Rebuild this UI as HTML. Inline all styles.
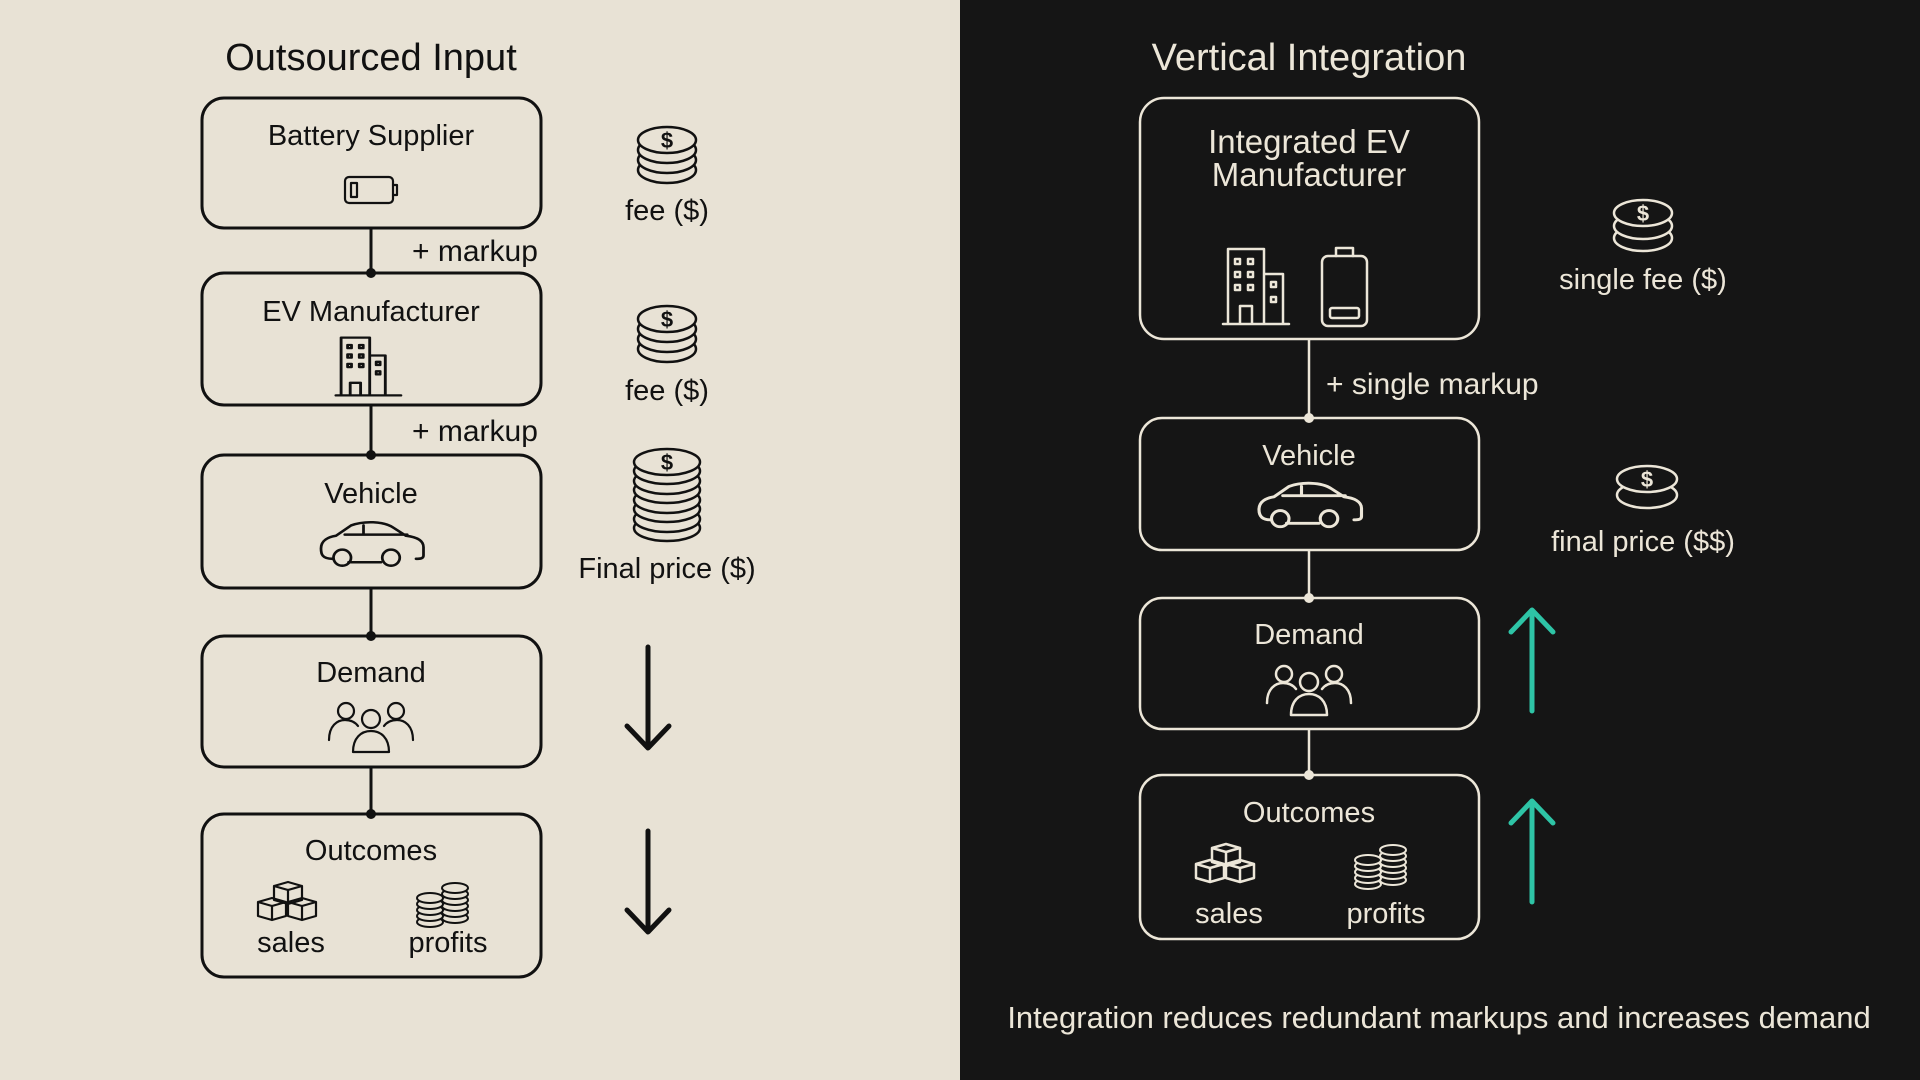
<!DOCTYPE html>
<html><head><meta charset="utf-8"><style>
html,body{margin:0;padding:0;width:1920px;height:1080px;overflow:hidden}
svg{display:block}
text{font-family:"Liberation Sans",sans-serif}
</style></head><body>
<svg width="1920" height="1080" viewBox="0 0 1920 1080" xmlns="http://www.w3.org/2000/svg">
<rect x="0" y="0" width="960" height="1080" fill="#e8e2d5"/>
<rect x="960" y="0" width="960" height="1080" fill="#151515"/>

<!-- LEFT -->
<g fill="none" stroke="#111" stroke-width="3">
<line x1="371" y1="228" x2="371" y2="273"/>
<line x1="371" y1="405" x2="371" y2="455"/>
<line x1="371" y1="588" x2="371" y2="636"/>
<line x1="371" y1="767" x2="371" y2="814"/>
<rect x="202" y="98" width="339" height="130" rx="22"/>
<rect x="202" y="273" width="339" height="132" rx="22"/>
<rect x="202" y="455" width="339" height="133" rx="22"/>
<rect x="202" y="636" width="339" height="131" rx="22"/>
<rect x="202" y="814" width="339" height="163" rx="22"/>
</g>
<g fill="#111"><circle cx="371" cy="273" r="5"/><circle cx="371" cy="455" r="5"/><circle cx="371" cy="636" r="5"/><circle cx="371" cy="814" r="5"/></g>
<g fill="#111" text-anchor="middle">
<text x="371" y="70" font-size="38">Outsourced Input</text>
<text x="371" y="145" font-size="29">Battery Supplier</text>
<text x="371" y="321" font-size="29">EV Manufacturer</text>
<text x="371" y="503" font-size="29">Vehicle</text>
<text x="371" y="682" font-size="29">Demand</text>
<text x="371" y="860" font-size="29">Outcomes</text>
<text x="291" y="952" font-size="29">sales</text>
<text x="448" y="952" font-size="29">profits</text>
<text x="667" y="220" font-size="29">fee ($)</text>
<text x="667" y="400" font-size="29">fee ($)</text>
<text x="667" y="578" font-size="29">Final price ($)</text>
</g>
<g fill="#111" font-size="30"><text x="412" y="261">+ markup</text><text x="412" y="441">+ markup</text></g>

<!-- left icons -->
<g fill="none" stroke="#111" stroke-width="2.2" stroke-linecap="round" stroke-linejoin="round">
<rect x="345" y="177" width="48" height="26" rx="4"/><rect x="351" y="183" width="6" height="14"/><path d="M393 185h4v10h-4"/>
<g transform="translate(371,366) scale(1.3,1.05) translate(-371,-366)">
<path d="M344 394h50M348 394v-55h22v55M370 356h12v38M355 394v-12h8v12"/>
<rect x="353" y="346" width="3" height="3"/><rect x="362" y="346" width="3" height="3"/><rect x="353" y="355" width="3" height="3"/><rect x="362" y="355" width="3" height="3"/><rect x="353" y="364" width="3" height="3"/><rect x="362" y="364" width="3" height="3"/><rect x="375" y="362" width="3" height="3"/><rect x="375" y="371" width="3" height="3"/>
</g>
<g transform="translate(371,545) scale(1.25,1.15) translate(-371,-545)">
<path d="M340 557c-8 0-9-4-9-9c0-7 6-10 12-11l12-9c10-4 26-4 34 2l10 7c8 1 14 4 14 10v7c0 3-3 3-6 3M353 560h26M350 536h50M365 528v8"/>
<circle cx="348" cy="556" r="7"/><circle cx="387" cy="556" r="7"/>
</g>
<circle cx="346" cy="711" r="8"/><circle cx="396" cy="711" r="8"/><circle cx="371" cy="719" r="9"/>
<path d="M329 740c0-14 8-20 16-20c6 0 10 2 13 6M413 740c0-14-8-20-16-20c-6 0-10 2-13 6M353 752c0-14 8-21 18-21s18 7 18 21z"/>
<path d="M274 886l14-4l14 4v14l-14 4l-14-4zM274 886l14 4l14-4M288 890v14"/>
<path d="M258 902l14-4l14 4v14l-14 4l-14-4zM258 902l14 4l14-4M272 906v14"/>
<path d="M288 902l14-4l14 4v14l-14 4l-14-4zM288 902l14 4l14-4M302 906v14"/>
</g>
<g fill="#e8e2d5" stroke="#111" stroke-width="2">
<ellipse cx="455" cy="918" rx="13" ry="5"/><ellipse cx="455" cy="912" rx="13" ry="5"/><ellipse cx="455" cy="906" rx="13" ry="5"/><ellipse cx="455" cy="900" rx="13" ry="5"/><ellipse cx="455" cy="894" rx="13" ry="5"/><ellipse cx="455" cy="888" rx="13" ry="5"/>
<ellipse cx="430" cy="922" rx="13" ry="5"/><ellipse cx="430" cy="916" rx="13" ry="5"/><ellipse cx="430" cy="910" rx="13" ry="5"/><ellipse cx="430" cy="904" rx="13" ry="5"/><ellipse cx="430" cy="898" rx="13" ry="5"/>
</g>
<g fill="#e8e2d5" stroke="#111" stroke-width="2.5">
<ellipse cx="667" cy="170" rx="29" ry="13"/><ellipse cx="667" cy="160" rx="29" ry="13"/><ellipse cx="667" cy="150" rx="29" ry="13"/><ellipse cx="667" cy="140" rx="29" ry="13"/>
<ellipse cx="667" cy="349" rx="29" ry="13"/><ellipse cx="667" cy="339" rx="29" ry="13"/><ellipse cx="667" cy="329" rx="29" ry="13"/><ellipse cx="667" cy="319" rx="29" ry="13"/>
<ellipse cx="667" cy="528" rx="33" ry="13"/><ellipse cx="667" cy="519" rx="33" ry="13"/><ellipse cx="667" cy="509" rx="33" ry="13"/><ellipse cx="667" cy="500" rx="33" ry="13"/><ellipse cx="667" cy="490" rx="33" ry="13"/><ellipse cx="667" cy="481" rx="33" ry="13"/><ellipse cx="667" cy="471" rx="33" ry="13"/><ellipse cx="667" cy="462" rx="33" ry="13"/>
</g>
<g fill="#111" font-size="22" font-weight="bold" text-anchor="middle"><text x="667" y="148">$</text><text x="667" y="327">$</text><text x="667" y="470">$</text></g>
<g fill="none" stroke="#111" stroke-width="5" stroke-linecap="round" stroke-linejoin="round">
<path d="M648 647v100M627 726l21 22l21-22"/>
<path d="M648 831v100M627 910l21 22l21-22"/>
</g>

<!-- RIGHT -->
<g fill="none" stroke="#ece6d8" stroke-width="2.5">
<line x1="1309" y1="339" x2="1309" y2="418"/>
<line x1="1309" y1="550" x2="1309" y2="598"/>
<line x1="1309" y1="729" x2="1309" y2="775"/>
<rect x="1140" y="98" width="339" height="241" rx="24"/>
<rect x="1140" y="418" width="339" height="132" rx="22"/>
<rect x="1140" y="598" width="339" height="131" rx="22"/>
<rect x="1140" y="775" width="339" height="164" rx="22"/>
</g>
<g fill="#ece6d8"><circle cx="1309" cy="418" r="5"/><circle cx="1309" cy="598" r="5"/><circle cx="1309" cy="775" r="5"/></g>
<g fill="#ece6d8" text-anchor="middle">
<text x="1309" y="70" font-size="38">Vertical Integration</text>
<text x="1309" y="153" font-size="33">Integrated EV</text>
<text x="1309" y="186" font-size="33">Manufacturer</text>
<text x="1309" y="465" font-size="29">Vehicle</text>
<text x="1309" y="644" font-size="29">Demand</text>
<text x="1309" y="822" font-size="29">Outcomes</text>
<text x="1229" y="923" font-size="29">sales</text>
<text x="1386" y="923" font-size="29">profits</text>
<text x="1643" y="289" font-size="29">single fee ($)</text>
<text x="1643" y="551" font-size="29">final price ($$)</text>
<text x="1439" y="1028" font-size="31">Integration reduces redundant markups and increases demand</text>
</g>
<text x="1326" y="394" font-size="30" fill="#ece6d8">+ single markup</text>

<g fill="none" stroke="#ece6d8" stroke-width="2.5" stroke-linecap="round" stroke-linejoin="round">
<path d="M1223 324h66M1228 324v-75h36v75M1264 274h19v50M1240 324v-18h12v18"/>
<rect x="1235" y="259" width="5" height="5"/><rect x="1248" y="259" width="5" height="5"/><rect x="1235" y="272" width="5" height="5"/><rect x="1248" y="272" width="5" height="5"/><rect x="1235" y="285" width="5" height="5"/><rect x="1248" y="285" width="5" height="5"/><rect x="1271" y="282" width="5" height="5"/><rect x="1271" y="297" width="5" height="5"/>
<rect x="1322" y="256" width="45" height="70" rx="6"/><path d="M1336 256v-8h17v8"/><rect x="1330" y="308" width="29" height="10" rx="2"/>
<g transform="translate(1309,506) scale(1.25,1.15) translate(-1309,-506)">
<path d="M1278 518c-7 0-9-4-9-9c0-7 6-10 12-11l12-9c10-4 26-4 34 2l10 7c8 1 14 4 14 10v7c0 3-3 3-6 3M1291 521h26M1288 497h50M1303 489v8"/>
<circle cx="1286" cy="517" r="7"/><circle cx="1325" cy="517" r="7"/>
</g>
<circle cx="1284" cy="674" r="8"/><circle cx="1334" cy="674" r="8"/><circle cx="1309" cy="682" r="9"/>
<path d="M1267 703c0-14 8-20 16-20c6 0 10 2 13 6M1351 703c0-14-8-20-16-20c-6 0-10 2-13 6M1291 715c0-14 8-21 18-21s18 7 18 21z"/>
<path d="M1212 848l14-4l14 4v14l-14 4l-14-4zM1212 848l14 4l14-4M1226 852v14"/>
<path d="M1196 864l14-4l14 4v14l-14 4l-14-4zM1196 864l14 4l14-4M1210 868v14"/>
<path d="M1226 864l14-4l14 4v14l-14 4l-14-4zM1226 864l14 4l14-4M1240 868v14"/>
</g>
<g fill="#151515" stroke="#ece6d8" stroke-width="2">
<ellipse cx="1393" cy="880" rx="13" ry="5"/><ellipse cx="1393" cy="874" rx="13" ry="5"/><ellipse cx="1393" cy="868" rx="13" ry="5"/><ellipse cx="1393" cy="862" rx="13" ry="5"/><ellipse cx="1393" cy="856" rx="13" ry="5"/><ellipse cx="1393" cy="850" rx="13" ry="5"/>
<ellipse cx="1368" cy="884" rx="13" ry="5"/><ellipse cx="1368" cy="878" rx="13" ry="5"/><ellipse cx="1368" cy="872" rx="13" ry="5"/><ellipse cx="1368" cy="866" rx="13" ry="5"/><ellipse cx="1368" cy="860" rx="13" ry="5"/>
</g>
<g fill="#151515" stroke="#ece6d8" stroke-width="2.5">
<ellipse cx="1643" cy="238" rx="29" ry="13"/><ellipse cx="1643" cy="226" rx="29" ry="13"/><ellipse cx="1643" cy="213" rx="29" ry="13"/>
<ellipse cx="1647" cy="495" rx="30" ry="13"/><ellipse cx="1647" cy="479" rx="30" ry="13"/>
</g>
<g fill="#ece6d8" font-size="22" font-weight="bold" text-anchor="middle"><text x="1643" y="221">$</text><text x="1647" y="487">$</text></g>
<g fill="none" stroke="#2ec4a6" stroke-width="5" stroke-linecap="round" stroke-linejoin="round">
<path d="M1532 711v-100M1511 632l21-22l21 22"/>
<path d="M1532 902v-100M1511 823l21-22l21 22"/>
</g>
</svg>
</body></html>
